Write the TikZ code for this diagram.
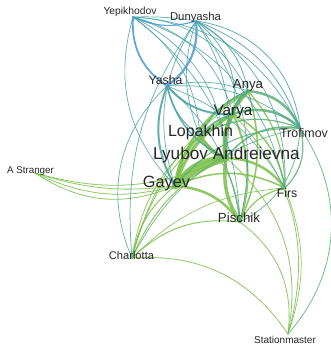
\documentclass[tikz,border=0pt]{standalone}
\usepackage{fontspec}
\setmainfont{Liberation Sans}
\definecolor{blueE}{RGB}{74,152,212}
\definecolor{tealE}{RGB}{72,162,160}
\definecolor{seaE}{RGB}{90,175,118}
\definecolor{greenE}{RGB}{122,190,72}
\tikzset{
  link/.style={opacity=0.85, line cap=round},
  who/.style={anchor=base, inner sep=0pt, text=black!85}
}
\newcommand{\fs}[1]{\fontsize{#1}{#1}\selectfont}
\begin{document}
\begin{tikzpicture}[x=1pt,y=-1pt]
\useasboundingbox (0,0) rectangle (330,345);
% hubs
\coordinate (yep) at (133,17);
\coordinate (dun) at (196,21);
\coordinate (yasha) at (167,86);
\coordinate (anya) at (248,91);
\coordinate (varya) at (233,114);
\coordinate (lopakhin) at (200,136);
\coordinate (lyubov) at (226,158);
\coordinate (gayev) at (175,186);
\coordinate (trofimov) at (300,128);
\coordinate (firs) at (285,188);
\coordinate (pischik) at (240,222);
\coordinate (charlotta) at (132,258);
\coordinate (station) at (288,334);
\coordinate (stranger) at (35,173);
% links
\foreach \s/\t/\w/\b in {
  gayev/lyubov/7/12, gayev/lyubov/4/30, lyubov/lopakhin/4/20,
  lyubov/varya/4/20, lyubov/anya/4/25, gayev/varya/3/20,
  gayev/anya/2.5/25, gayev/lopakhin/2.5/20, pischik/lyubov/3.5/20,
  gayev/pischik/2.5/25, varya/pischik/2/20, anya/pischik/1.5/20,
  lopakhin/pischik/1.2/20, lyubov/firs/2.5/25, gayev/firs/1.5/25,
  varya/firs/1.5/25, anya/firs/1.2/20, pischik/firs/1.2/25,
  charlotta/lyubov/1/20, charlotta/gayev/1/20, charlotta/varya/0.8/20,
  charlotta/anya/0.8/20, charlotta/lopakhin/0.8/20, charlotta/pischik/1/25,
  charlotta/firs/0.7/20, charlotta/station/0.8/30, pischik/station/0.8/30,
  lyubov/station/0.8/30, varya/station/0.8/30, firs/station/0.7/20,
  lyubov/stranger/0.8/20, gayev/stranger/0.8/12, gayev/stranger/0.8/20,
  gayev/stranger/0.8/28}
  \draw[link, greenE, line width=\w] (\s) to[bend left=\b] (\t);
\foreach \s/\t/\w/\b in {
  anya/trofimov/2.5/30, varya/trofimov/2.5/30, lopakhin/trofimov/1.2/25,
  lyubov/trofimov/1.5/30, trofimov/firs/1.2/30, trofimov/pischik/0.8/30,
  trofimov/station/0.8/38, varya/anya/2.5/20, lopakhin/anya/1.2/20,
  lopakhin/varya/2/15, charlotta/trofimov/0.7/25, gayev/trofimov/1/25}
  \draw[link, seaE, line width=\w] (\s) to[bend left=\b] (\t);
\foreach \s/\t/\w/\b in {
  yep/dun/0.7/5, yep/anya/0.7/30, yep/varya/0.7/30, yep/lopakhin/0.7/25,
  yep/lyubov/0.7/30, yep/trofimov/0.7/30, yep/firs/0.7/30, yep/pischik/0.7/25,
  gayev/yep/0.7/30, dun/anya/0.8/25, dun/varya/0.8/30, dun/trofimov/0.8/38,
  dun/trofimov/0.8/25, dun/firs/0.7/30, dun/lyubov/0.7/20, dun/pischik/0.7/25,
  gayev/dun/0.7/25, lopakhin/dun/0.7/20, charlotta/dun/0.7/20,
  yasha/anya/0.7/15, yasha/trofimov/0.7/20, yasha/firs/0.7/20,
  yasha/pischik/0.7/20, charlotta/yasha/0.7/35, varya/yasha/2/25,
  lyubov/yasha/1.5/25, gayev/yasha/2/25, lopakhin/yasha/1/20}
  \draw[link, tealE, line width=\w] (\s) to[bend left=\b] (\t);
\foreach \s/\t/\w/\b in {yasha/yep/1.8/30, dun/yasha/2.2/30, dun/yep/1.2/20}
  \draw[link, blueE, line width=\w] (\s) to[bend left=\b] (\t);
% names
\node[who] (yep-l) at (130,15) {\fs{10.3}Yepikhodov};
\node[who] (dun-l) at (195.5,21) {\fs{11.3}Dunyasha};
\node[who] (yasha-l) at (165.5,84) {\fs{12.3}Yasha};
\node[who] (anya-l) at (248,88) {\fs{13.2}Anya};
\node[who] (varya-l) at (233,115) {\fs{15.3}Varya};
\node[who] (lopakhin-l) at (200.5,136) {\fs{16}Lopakhin};
\node[who] (lyubov-l) at (226.5,159) {\fs{17.2}Lyubov Andreievna};
\node[who] (gayev-l) at (166.5,187) {\fs{16.3}Gayev};
\node[who] (trofimov-l) at (304,137) {\fs{12.4}Trofimov};
\node[who] (firs-l) at (287,197) {\fs{12.3}Firs};
\node[who] (pischik-l) at (239,222) {\fs{13.3}Pischik};
\node[who] (charlotta-l) at (131.5,259) {\fs{11.1}Charlotta};
\node[who] (station-l) at (285,343) {\fs{10}Stationmaster};
\node[who] (stranger-l) at (30.5,173) {\fs{9.8}A Stranger};
\end{tikzpicture}
\end{document}
